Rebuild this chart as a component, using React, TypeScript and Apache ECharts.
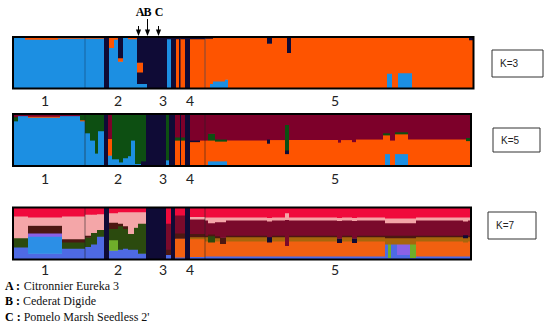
import React, { useEffect, useRef } from 'react';
import * as echarts from 'echarts';

// ---------- colours (cluster palettes) ----------
const K3_COLORS: Record<string, string> = { B: '#1c8fe2', O: '#fe5400', N: '#0f0b36' };
const K5_COLORS: Record<string, string> = { B: '#1c8fe2', O: '#fe5400', N: '#0f0b36', G: '#0d4f12', M: '#7d002a' };
const K7_COLORS: Record<string, string> = {
  R: '#f00a3c', P: '#f4a6a8', D: '#4c1812', M: '#7a0a2b', G: '#2b4a0e', V: '#4e6ae4',
  L: '#2c8fe6', U: '#8a62e6', I: '#6fae2a', N: '#0f0b36', O: '#f26010', Y: '#a8660c',
};

// ---------- group labels ----------
const GROUP_LABELS = ['1', '2', '3', '4', '5'];
const GROUP_LABEL_X = [45, 118, 163, 190, 335];
const GROUP_BOUNDARIES = [85, 205];
const K_LABELS = ['K=3', 'K=5', 'K=7'];
const ACCESSION_KEYS = ['A', 'B', 'C'];
const ACCESSION_NAMES = ['Citronnier Eureka 3', 'Cederat Digide', "Pomelo Marsh Seedless 2'"];
const ACCESSION_X = [138.5, 147.5, 158.5];

// ---------- membership segments: [x0, x1, cluster, q, cluster, q, ...] bottom -> top ----------
const K3_SEGMENTS: (number | string)[][] = [
  [13, 25, 'B', 1],
  [25, 58, 'B', 0.96, 'O', 0.04],
  [58, 85, 'B', 0.98, 'O', 0.02],
  [85, 104, 'B', 0.98, 'O', 0.02],
  [104, 109, 'N', 1],
  [109, 114, 'B', 0.8, 'O', 0.2],
  [114, 118, 'B', 0.96, 'O', 0.04],
  [118, 123, 'B', 0.53, 'O', 0.07, 'N', 0.4],
  [123, 128, 'B', 1],
  [128, 137, 'B', 0.97, 'O', 0.03],
  [137, 143, 'B', 0.1, 'N', 0.22, 'O', 0.19, 'N', 0.49],
  [143, 147, 'B', 0.1, 'N', 0.9],
  [147, 167, 'N', 1],
  [167, 171, 'B', 0.97, 'N', 0.03],
  [171, 176, 'N', 1],
  [176, 179, 'O', 0.97, 'N', 0.03],
  [179, 180.5, 'N', 1],
  [180.5, 185, 'O', 0.97, 'N', 0.03],
  [185, 190, 'N', 1],
  [190, 205, 'O', 0.97, 'N', 0.03],
  [205, 210, 'O', 0.98, 'N', 0.02],
  [210, 213, 'B', 0.1, 'O', 0.88, 'N', 0.02],
  [213, 225, 'B', 0.15, 'O', 0.84, 'N', 0.01],
  [225, 228, 'B', 0.18, 'O', 0.82],
  [228, 267, 'O', 0.99, 'N', 0.01],
  [267, 272, 'O', 0.88, 'N', 0.12],
  [272, 287, 'O', 1],
  [287, 291, 'O', 0.7, 'N', 0.3],
  [291, 387, 'O', 1],
  [387, 392, 'B', 0.3, 'O', 0.7],
  [392, 398, 'O', 1],
  [398, 412, 'B', 0.31, 'O', 0.69],
  [412, 469, 'O', 1],
  [469, 473.5, 'O', 0.95, 'N', 0.05],
];

const K5_SEGMENTS: (number | string)[][] = [
  [13, 18, 'B', 0.87, 'G', 0.08, 'M', 0.05],
  [18, 28, 'B', 0.97, 'M', 0.03],
  [28, 60, 'B', 0.94, 'O', 0.02, 'M', 0.04],
  [60, 80, 'B', 0.97, 'M', 0.03],
  [80, 85, 'B', 0.87, 'O', 0.02, 'G', 0.11],
  [85, 90, 'B', 0.64, 'G', 0.36],
  [90, 95, 'B', 0.5, 'G', 0.5],
  [95, 98, 'B', 0.25, 'G', 0.75],
  [98, 104, 'B', 0.68, 'G', 0.32],
  [104, 108, 'N', 1],
  [108, 112, 'B', 0.21, 'O', 0.32, 'M', 0.47],
  [112, 119, 'B', 0.14, 'G', 0.86],
  [119, 123, 'B', 0.08, 'G', 0.92],
  [123, 128, 'B', 0.16, 'G', 0.84],
  [128, 131, 'B', 0.2, 'G', 0.8],
  [131, 135, 'B', 0.5, 'G', 0.5],
  [135, 141, 'B', 0.05, 'G', 0.95],
  [141, 146, 'N', 0.1, 'G', 0.9],
  [146, 166, 'N', 1],
  [166, 169, 'B', 0.12, 'G', 0.88],
  [169, 175, 'N', 1],
  [175, 180, 'O', 0.5, 'G', 0.06, 'M', 0.44],
  [180, 181, 'N', 1],
  [181, 185, 'O', 0.5, 'G', 0.06, 'M', 0.44],
  [185, 190, 'N', 1],
  [190, 200, 'O', 0.47, 'N', 0.03, 'M', 0.5],
  [200, 208, 'O', 0.5, 'M', 0.5],
  [208, 215, 'B', 0.1, 'O', 0.4, 'G', 0.13, 'M', 0.37],
  [215, 227, 'B', 0.1, 'O', 0.38, 'G', 0.04, 'M', 0.48],
  [227, 267, 'O', 0.5, 'M', 0.5],
  [267, 270, 'O', 0.44, 'N', 0.08, 'M', 0.48],
  [270, 285, 'O', 0.51, 'M', 0.49],
  [285, 289, 'O', 0.24, 'N', 0.07, 'G', 0.49, 'M', 0.2],
  [289, 338, 'O', 0.51, 'M', 0.49],
  [338, 341, 'O', 0.46, 'M', 0.54],
  [341, 352, 'O', 0.51, 'M', 0.49],
  [352, 356, 'O', 0.47, 'M', 0.53],
  [356, 383, 'O', 0.52, 'M', 0.48],
  [383, 385, 'O', 0.6, 'G', 0.04, 'M', 0.36],
  [385, 390, 'B', 0.24, 'O', 0.36, 'G', 0.04, 'M', 0.36],
  [390, 395, 'O', 0.5, 'M', 0.5],
  [395, 408, 'B', 0.24, 'O', 0.38, 'G', 0.04, 'M', 0.34],
  [408, 466, 'O', 0.52, 'M', 0.48],
  [466, 471, 'O', 0.49, 'G', 0.06, 'M', 0.45],
];

const K7_SEGMENTS: (number | string)[][] = [
  [13, 28, 'V', 0.24, 'G', 0.18, 'P', 0.42, 'R', 0.16],
  [28, 62, 'V', 0.12, 'L', 0.33, 'U', 0.06, 'D', 0.15, 'P', 0.16, 'R', 0.18],
  [62, 85, 'V', 0.22, 'G', 0.12, 'D', 0.06, 'P', 0.44, 'R', 0.16],
  [85, 91, 'V', 0.25, 'G', 0.18, 'D', 0.04, 'P', 0.4, 'R', 0.13],
  [91, 97, 'V', 0.3, 'G', 0.22, 'P', 0.35, 'R', 0.13],
  [97, 104, 'V', 0.45, 'G', 0.13, 'P', 0.3, 'R', 0.12],
  [104, 109, 'N', 1],
  [109, 118, 'V', 0.18, 'I', 0.2, 'G', 0.22, 'D', 0.12, 'P', 0.18, 'R', 0.1],
  [118, 123, 'V', 0.2, 'G', 0.45, 'D', 0.05, 'P', 0.22, 'R', 0.08],
  [123, 128, 'V', 0.22, 'G', 0.38, 'D', 0.05, 'P', 0.27, 'R', 0.08],
  [128, 134, 'V', 0.2, 'G', 0.3, 'P', 0.42, 'R', 0.08],
  [134, 138, 'V', 0.2, 'G', 0.42, 'P', 0.3, 'R', 0.08],
  [138, 146, 'V', 0.12, 'G', 0.58, 'P', 0.22, 'R', 0.08],
  [146, 166, 'N', 1],
  [166, 171, 'V', 0.1, 'D', 0.1, 'M', 0.5, 'R', 0.3],
  [171, 175, 'N', 1],
  [175, 185, 'V', 0.05, 'O', 0.36, 'D', 0.1, 'M', 0.35, 'R', 0.14],
  [185, 190, 'N', 1],
  [190, 205, 'V', 0.06, 'O', 0.34, 'Y', 0.04, 'D', 0.06, 'M', 0.28, 'P', 0.05, 'R', 0.17],
  [205, 208, 'V', 0.07, 'O', 0.29, 'Y', 0.08, 'D', 0.03, 'M', 0.29, 'P', 0.06, 'R', 0.18],
  [208, 215, 'V', 0.07, 'O', 0.27, 'G', 0.12, 'D', 0.03, 'M', 0.22, 'P', 0.11, 'R', 0.18],
  [215, 220, 'V', 0.07, 'O', 0.29, 'Y', 0.06, 'D', 0.04, 'M', 0.27, 'P', 0.09, 'R', 0.18],
  [220, 226, 'V', 0.07, 'O', 0.24, 'D', 0.12, 'M', 0.3, 'P', 0.09, 'R', 0.18],
  [226, 267, 'V', 0.07, 'O', 0.29, 'Y', 0.08, 'D', 0.03, 'M', 0.29, 'P', 0.06, 'R', 0.18],
  [267, 272, 'V', 0.07, 'O', 0.27, 'N', 0.1, 'M', 0.3, 'P', 0.07, 'R', 0.19],
  [272, 285, 'V', 0.07, 'O', 0.29, 'Y', 0.08, 'D', 0.03, 'M', 0.29, 'P', 0.06, 'R', 0.18],
  [285, 289, 'V', 0.07, 'O', 0.2, 'M', 0.5, 'P', 0.13, 'R', 0.1],
  [289, 337, 'V', 0.07, 'O', 0.29, 'Y', 0.08, 'D', 0.03, 'M', 0.29, 'P', 0.06, 'R', 0.18],
  [337, 342, 'V', 0.07, 'O', 0.26, 'N', 0.08, 'M', 0.34, 'P', 0.06, 'R', 0.19],
  [342, 352, 'V', 0.07, 'O', 0.29, 'Y', 0.08, 'D', 0.03, 'M', 0.29, 'P', 0.06, 'R', 0.18],
  [352, 357, 'V', 0.07, 'O', 0.26, 'N', 0.08, 'M', 0.34, 'P', 0.06, 'R', 0.19],
  [357, 385, 'V', 0.07, 'O', 0.29, 'Y', 0.08, 'D', 0.03, 'M', 0.29, 'P', 0.06, 'R', 0.18],
  [385, 388, 'V', 0.3, 'Y', 0.12, 'D', 0.05, 'M', 0.24, 'P', 0.09, 'R', 0.2],
  [388, 391, 'V', 0.04, 'I', 0.26, 'Y', 0.12, 'D', 0.05, 'M', 0.24, 'P', 0.09, 'R', 0.2],
  [391, 397, 'V', 0.3, 'Y', 0.12, 'D', 0.05, 'M', 0.24, 'P', 0.09, 'R', 0.2],
  [397, 410, 'V', 0.1, 'U', 0.2, 'Y', 0.12, 'D', 0.05, 'M', 0.24, 'P', 0.09, 'R', 0.2],
  [410, 416, 'V', 0.04, 'I', 0.26, 'Y', 0.12, 'D', 0.05, 'M', 0.24, 'P', 0.09, 'R', 0.2],
  [416, 463, 'V', 0.07, 'O', 0.29, 'Y', 0.08, 'D', 0.03, 'M', 0.29, 'P', 0.06, 'R', 0.18],
  [463, 468, 'V', 0.07, 'O', 0.27, 'Y', 0.08, 'N', 0.06, 'M', 0.26, 'P', 0.08, 'R', 0.18],
  [468, 471, 'V', 0.07, 'O', 0.29, 'Y', 0.08, 'D', 0.03, 'M', 0.29, 'P', 0.06, 'R', 0.18],
];

const PANELS = [
  { segs: K3_SEGMENTS, colors: K3_COLORS, top: 37, height: 51.5, xMax: 473.5, sep: '#14406e', labelMargin: 6 },
  { segs: K5_SEGMENTS, colors: K5_COLORS, top: 114, height: 52, xMax: 471, sep: '#222', labelMargin: 6 },
  { segs: K7_SEGMENTS, colors: K7_COLORS, top: 207.5, height: 52, xMax: 471, sep: '#222', labelMargin: 4 },
];
const K_BOXES = [
  { x: 492, y: 50, w: 51, h: 27 },
  { x: 493, y: 128, w: 47, h: 24 },
  { x: 488, y: 212, w: 48, h: 27 },
];

export default function App() {
  const ref = useRef<HTMLDivElement>(null);
  useEffect(() => {
    if (!ref.current) return;
    const chart = echarts.init(ref.current, undefined, { renderer: 'svg' });
    const LEFT = 13;

    const grids = PANELS.map((p) => ({ left: LEFT, top: p.top, width: p.xMax - LEFT, height: p.height }));
    const xAxes = PANELS.map((p, i) => ({
      type: 'value', gridIndex: i, min: LEFT, max: p.xMax,
      axisLine: { show: false }, axisTick: { show: false }, splitLine: { show: false },
      axisLabel: {
        customValues: GROUP_LABEL_X,
        formatter: (v: number) => {
          const k = GROUP_LABEL_X.indexOf(v);
          return k >= 0 ? GROUP_LABELS[k] : '';
        },
        fontFamily: 'Lato, sans-serif', fontSize: 14, lineHeight: 12, color: '#222', margin: p.labelMargin,
      },
    }));
    const yAxes = PANELS.map((_, i) => ({ type: 'value', gridIndex: i, min: 0, max: 1, show: false }));

    const series: any[] = [];
    PANELS.forEach((p, i) => {
      series.push({
        type: 'custom', xAxisIndex: i, yAxisIndex: i, clip: true,
        data: p.segs.map((s) => [s[0], s[1]]),
        encode: { x: [0, 1] },
        renderItem: (params: any, api: any) => {
          const seg = p.segs[params.dataIndex];
          const x0 = api.value(0), x1 = api.value(1);
          let total = 0;
          for (let k = 2; k < seg.length; k += 2) total += seg[k + 1] as number;
          let cum = 0;
          const children: any[] = [];
          for (let k = 2; k < seg.length; k += 2) {
            const f = (seg[k + 1] as number) / total;
            const a = api.coord([x0, cum]);
            const b = api.coord([x1, cum + f]);
            children.push({
              type: 'rect',
              shape: { x: a[0], y: b[1], width: b[0] - a[0] + 0.6, height: a[1] - b[1] + 0.6 },
              style: { fill: p.colors[seg[k] as string] },
            });
            cum += f;
          }
          return { type: 'group', children };
        },
      });
      series.push({
        type: 'custom', xAxisIndex: i, yAxisIndex: i, clip: true, z: 5,
        data: GROUP_BOUNDARIES.map((x) => [x]),
        encode: { x: 0 },
        renderItem: (_params: any, api: any) => {
          const a = api.coord([api.value(0), 0]);
          const b = api.coord([api.value(0), 1]);
          return {
            type: 'line',
            shape: { x1: a[0], y1: a[1], x2: b[0], y2: b[1] },
            style: { stroke: p.sep, lineWidth: 0.8, opacity: 0.7 },
          };
        },
      });
    });

    const graphic: any[] = [];
    PANELS.forEach((p) => {
      graphic.push({
        type: 'rect', z: 100,
        shape: { x: LEFT, y: p.top, width: p.xMax - LEFT, height: p.height },
        style: { fill: 'none', stroke: '#000', lineWidth: 2 },
      });
    });
    K_BOXES.forEach((b, i) => {
      graphic.push({
        type: 'rect', z: 100,
        shape: { x: b.x, y: b.y, width: b.w, height: b.h },
        style: { fill: '#fff', stroke: '#333', lineWidth: 1 },
      });
      graphic.push({
        type: 'text', z: 101, x: b.x + 8, y: b.y + b.h / 2,
        style: { text: K_LABELS[i], fill: '#222', font: '10px "Liberation Sans", sans-serif', verticalAlign: 'middle' },
      });
    });
    // accession arrows
    const stemTop = [26, 19, 26];
    ACCESSION_X.forEach((x, i) => {
      graphic.push({
        type: 'line', z: 100,
        shape: { x1: x, y1: stemTop[i], x2: x, y2: 31 },
        style: { stroke: '#000', lineWidth: 1 },
      });
      graphic.push({
        type: 'polygon', z: 100,
        shape: { points: [[x - 2.6, 29.5], [x + 2.6, 29.5], [x, 36]] },
        style: { fill: '#000' },
      });
    });
    const letterX = [140, 147.5, 159];
    ACCESSION_KEYS.forEach((k, i) => {
      graphic.push({
        type: 'text', z: 100, x: letterX[i], y: 12,
        style: { text: k, fill: '#000', font: 'bold 12px "Liberation Serif", serif', align: 'center', verticalAlign: 'middle' },
      });
    });
    // accession legend
    const legendY = [285.5, 301, 316.5];
    ACCESSION_KEYS.forEach((k, i) => {
      graphic.push({
        type: 'text', z: 100, x: 5, y: legendY[i],
        style: {
          text: `{b|${k} :} ${ACCESSION_NAMES[i]}`,
          rich: { b: { font: 'bold 12px "Liberation Serif", serif', fill: '#000' } },
          fill: '#111', font: '12px "Liberation Serif", serif', verticalAlign: 'middle',
        },
      });
    });

    chart.setOption({
      animation: false,
      backgroundColor: '#fff',
      grid: grids,
      xAxis: xAxes,
      yAxis: yAxes,
      series,
      graphic,
    });
    return () => chart.dispose();
  }, []);
  return <div ref={ref} style={{ position: 'fixed', left: 0, top: 0, width: 550, height: 325 }} />;
}
